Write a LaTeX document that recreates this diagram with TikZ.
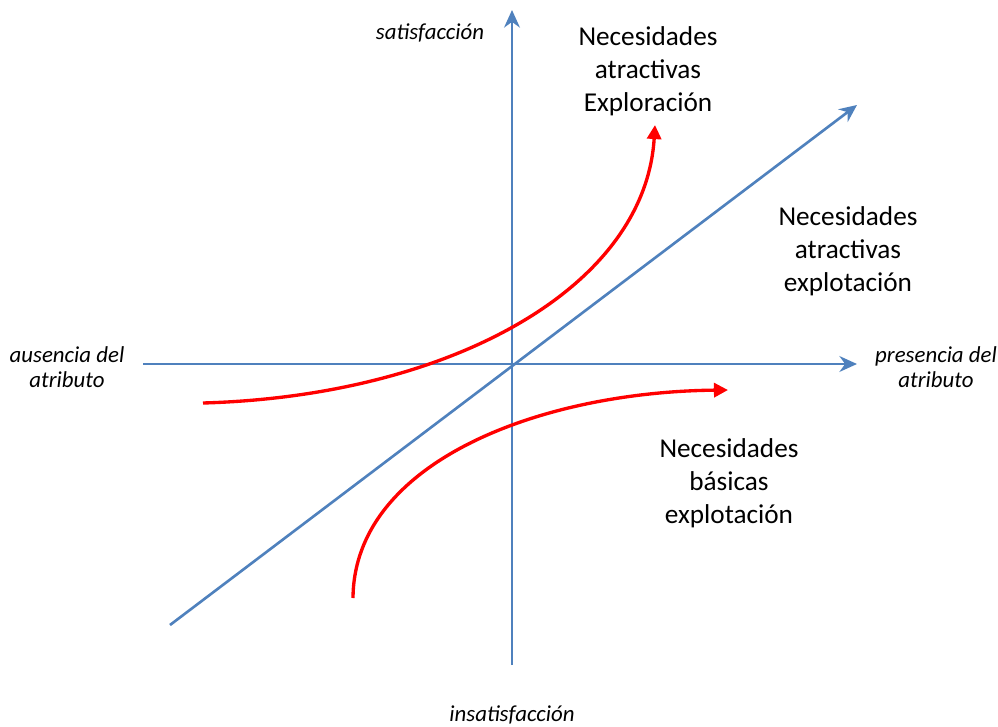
\documentclass[tikz,border=0pt]{standalone}
\usepackage{fontspec}
\setmainfont{Carlito}
\definecolor{axblue}{RGB}{79,129,189}
\definecolor{curvered}{RGB}{255,0,0}
\usetikzlibrary{arrows.meta,positioning}

\begin{document}
\begin{tikzpicture}[x=0.02cm, y=-0.02cm,
  ax/.style={draw=axblue, line width=1.5pt, -{Stealth[length=10pt,width=9pt]}},
  crv/.style={draw=curvered, line width=1.9pt, -{Triangle[length=8pt,width=8pt]}},
  lbl/.style={font=\fontsize{15.5}{18.8}\selectfont, align=center},
  axlbl/.style={font=\fontsize{13}{14.2}\selectfont\itshape, align=center}]
\useasboundingbox (0,0) rectangle (998,727);
% axes
\coordinate (origin) at (512,364);
\coordinate (vbot) at (512,665);
\coordinate (vtop) at (512,10);
\coordinate (hleft) at (143,364);
\coordinate (hright) at (857,364);
\coordinate (dlow) at (170,625);
\coordinate (dhigh) at (857,105);
\draw[ax] (vbot) -- (vtop);
\draw[ax] (hleft) -- (hright);
\draw[ax] (dlow) -- (dhigh);
% curves
\coordinate (c1a) at (203,403);
\coordinate (c1b) at (655,125);
\coordinate (c2a) at (353,598);
\coordinate (c2b) at (728,390);
\draw[crv] (c1a) .. controls (450,396) and (645,288) .. (c1b);
\draw[crv] (c2a) .. controls (354,462) and (540,392) .. (c2b);
% labels
\node[axlbl] (sat) at (430,33) {satisfacción};
\node[axlbl] (insat) at (512,715) {insatisfacción};
\node[axlbl] (aus) at (67,367) {ausencia del\\atributo};
\node[axlbl] (pres) at (936,367) {presencia del\\atributo};
\node[lbl] (explor) at (648,71) {Necesidades\\atractivas\\Exploración};
\node[lbl] (atrexp) at (848,251) {Necesidades\\atractivas\\explotación};
\node[lbl] (basexp) at (729,483) {Necesidades\\básicas\\explotación};
\end{tikzpicture}
\end{document}
